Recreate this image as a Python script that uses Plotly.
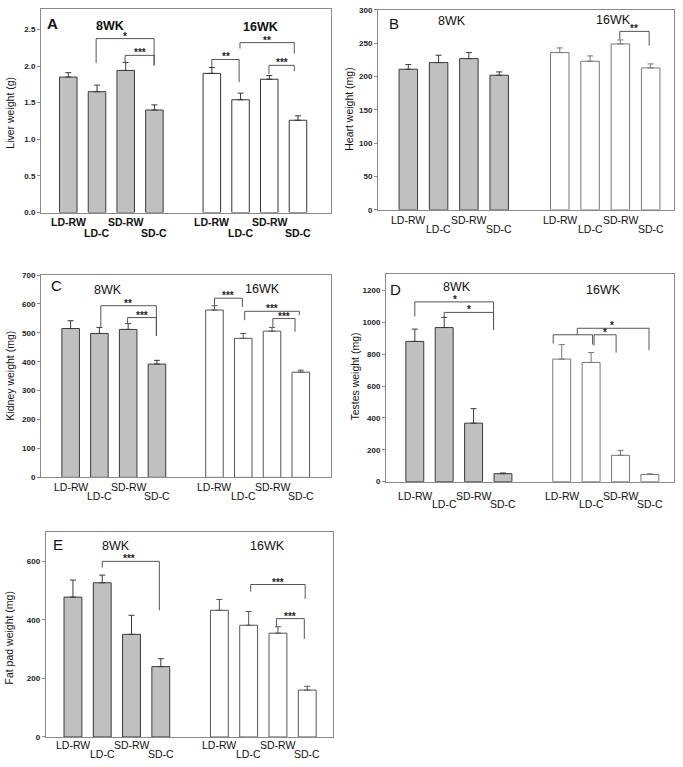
import plotly.graph_objects as go

# ---------------- data ----------------
groups = ["LD-RW", "LD-C", "SD-RW", "SD-C"]
ages = ["8WK", "16WK"]

liver_mean_8 = [1.85, 1.65, 1.94, 1.40]
liver_err_8 = [0.06, 0.09, 0.11, 0.07]
liver_mean_16 = [1.90, 1.54, 1.82, 1.26]
liver_err_16 = [0.08, 0.09, 0.05, 0.06]

heart_mean_8 = [211, 221, 227, 202]
heart_err_8 = [7, 11, 9, 5]
heart_mean_16 = [236, 223, 249, 213]
heart_err_16 = [7, 8, 6, 6]

kidney_mean_8 = [515, 498, 512, 392]
kidney_err_8 = [27, 21, 20, 13]
kidney_mean_16 = [579, 481, 506, 364]
kidney_err_16 = [15, 17, 13, 7]

testes_mean_8 = [880, 967, 367, 50]
testes_err_8 = [77, 64, 91, 4]
testes_mean_16 = [769, 748, 165, 45]
testes_err_16 = [91, 62, 31, 4]

fat_mean_8 = [477, 526, 350, 240]
fat_err_8 = [58, 26, 65, 27]
fat_mean_16 = [432, 381, 354, 160]
fat_err_16 = [37, 47, 22, 13]

liver_ticks = [0, 0.5, 1.0, 1.5, 2.0, 2.5]
heart_ticks = [0, 50, 100, 150, 200, 250, 300]
kidney_ticks = [0, 100, 200, 300, 400, 500, 600, 700]
testes_ticks = [0, 200, 400, 600, 800, 1000, 1200]
fat_ticks = [0, 200, 400, 600]

# significance brackets: (polyline points in bar-position / value units, label, label x, label y)
liver_brackets = [
    ([(0.97, 2.04), (0.97, 2.375), (2.99, 2.375), (2.99, 2.01)], "*", 1.98, 2.375),
    ([(1.98, 2.05), (1.98, 2.146), (2.99, 2.146), (2.99, 2.01)], "***", 2.5, 2.146),
    ([(5.0, 1.98), (5.0, 2.09), (5.95, 2.09), (5.95, 1.78)], "**", 5.48, 2.09),
    ([(5.98, 2.24), (5.98, 2.32), (7.87, 2.32), (7.87, 2.17)], "**", 6.92, 2.32),
    ([(6.99, 1.89), (6.99, 2.01), (7.87, 2.01), (7.87, 1.93)], "***", 7.43, 2.01),
]
heart_brackets = [
    ([(6.98, 256), (6.98, 267.8), (7.95, 267.8), (7.95, 246.4)], "**", 7.46, 267.8),
]
kidney_brackets = [
    ([(1.05, 519), (1.05, 594), (2.98, 594), (2.98, 489)], "**", 2.0, 594),
    ([(1.98, 532.5), (1.98, 553), (2.98, 553), (2.98, 489)], "***", 2.48, 553),
    ([(5.0, 594), (5.0, 620), (5.97, 620), (5.97, 589.5)], "***", 5.48, 620),
    ([(6.05, 544), (6.05, 574.7), (7.95, 574.7), (7.95, 561)], "***", 7.0, 574.7),
    ([(7.03, 519), (7.03, 549.6), (7.8, 549.6), (7.8, 504)], "***", 7.42, 549.6),
]
testes_brackets = [
    ([(0.0, 1037), (0.0, 1128), (2.68, 1128), (2.68, 952.6)], "*", 1.36, 1128),
    ([(1.0, 1031), (1.0, 1062), (2.68, 1062), (2.68, 952.6)], "*", 1.84, 1062),
    ([(4.71, 866), (4.71, 921.6), (6.05, 921.6), (6.05, 860)], "", 0, 0),
    ([(5.53, 921.6), (5.53, 962.5), (7.97, 962.5), (7.97, 824.5)], "*", 6.7, 962.5),
    ([(6.1, 855), (6.1, 921.6), (6.85, 921.6), (6.85, 810)], "*", 6.48, 921.6),
]
fat_brackets = [
    ([(1.0, 577.6), (1.0, 599), (2.95, 599), (2.95, 432)], "***", 1.9, 599),
    ([(6.07, 495.7), (6.07, 520), (7.93, 520), (7.93, 471)], "***", 7.0, 520),
    ([(6.95, 378), (6.95, 403.7), (7.9, 403.7), (7.9, 334)], "***", 7.42, 403.7),
]

# ---------------- layout helpers ----------------
W, H = 683, 767
FONT = "Liberation Sans, Arial, sans-serif"


def fx(px):
    return px / W


def fy(py):
    return 1 - py / H


panels = [
    dict(letter="A", ytitle="Liver weight (g)", m8=liver_mean_8, e8=liver_err_8,
         m16=liver_mean_16, e16=liver_err_16, ticks=liver_ticks, fmt=".1f",
         yr=(0, 2.78), xr=(-0.95, 9.15), dom=(41, 331, 5, 211),
         br=liver_brackets, letter_pos=(52, 20), p8=(110, 22), p16=(260, 23),
         rows=(9.7, 20.5), bold=True, ytpos=(10, 110), line16="#333333"),
    dict(letter="B", ytitle="Heart weight (mg)", m8=heart_mean_8, e8=heart_err_8,
         m16=heart_mean_16, e16=heart_err_16, ticks=heart_ticks, fmt="d",
         yr=(0, 300), xr=(-1.0, 8.77), dom=(378, 674, 6, 208.3),
         br=heart_brackets, letter_pos=(394, 20), p8=(452, 17), p16=(613, 16),
         rows=(10, 19.5), bold=False, ytpos=(349, 107), line16="#777777"),
    dict(letter="C", ytitle="Kidney weight (mg)", m8=kidney_mean_8, e8=kidney_err_8,
         m16=kidney_mean_16, e16=kidney_err_16, ticks=kidney_ticks, fmt="d",
         yr=(0, 700), xr=(-1.03, 9.05), dom=(41, 331, 274.3, 479),
         br=kidney_brackets, letter_pos=(56, 285), p8=(108, 289), p16=(262, 288),
         rows=(10, 19), bold=False, ytpos=(10, 376), line16="#555555"),
    dict(letter="D", ytitle="Testes weight (mg)", m8=testes_mean_8, e8=testes_err_8,
         m16=testes_mean_16, e16=testes_err_16, ticks=testes_ticks, fmt="d",
         yr=(0, 1300), xr=(-0.98, 8.82), dom=(386, 674, 273.7, 483.3),
         br=testes_brackets, letter_pos=(395, 289), p8=(457, 286.5), p16=(603, 289),
         rows=(14, 22.7), bold=False, ytpos=(355, 377), line16="#777777"),
    dict(letter="E", ytitle="Fat pad weight (mg)", m8=fat_mean_8, e8=fat_err_8,
         m16=fat_mean_16, e16=fat_err_16, ticks=fat_ticks, fmt="d",
         yr=(0, 700), xr=(-0.93, 8.88), dom=(45.7, 333, 534, 741.7),
         br=fat_brackets, letter_pos=(58, 547), p8=(116, 548), p16=(267, 548),
         rows=(8.5, 17.5), bold=False, ytpos=(9, 642), line16="#555555"),
]

fig = go.Figure()
shapes = []
annotations = []
layout_axes = {}

for i, p in enumerate(panels):
    n = i + 1
    xa = "x" if n == 1 else f"x{n}"
    ya = "y" if n == 1 else f"y{n}"
    pos8 = [j for j in range(len(groups))]
    pos16 = [j + len(groups) + 1 for j in range(len(groups))]

    fig.add_trace(go.Bar(
        x=pos8, y=p["m8"], width=0.61, xaxis=xa, yaxis=ya,
        marker=dict(color="#c0c0c0", line=dict(color="#3a3a3a", width=1)),
        error_y=dict(type="data", symmetric=False, array=p["e8"],
                     arrayminus=[0] * 4, width=3, thickness=1, color="#3a3a3a"),
        showlegend=False, hoverinfo="skip"))
    fig.add_trace(go.Bar(
        x=pos16, y=p["m16"], width=0.61, xaxis=xa, yaxis=ya,
        marker=dict(color="#ffffff", line=dict(color=p["line16"], width=1)),
        error_y=dict(type="data", symmetric=False, array=p["e16"],
                     arrayminus=[0] * 4, width=3, thickness=1, color=p["line16"]),
        showlegend=False, hoverinfo="skip"))

    x0, x1, y0, y1 = p["dom"]
    kx = "xaxis" if n == 1 else f"xaxis{n}"
    ky = "yaxis" if n == 1 else f"yaxis{n}"
    layout_axes[kx] = dict(domain=[fx(x0), fx(x1)], range=list(p["xr"]),
                           showticklabels=False, ticks="", showgrid=False,
                           zeroline=False, showline=True, mirror=True,
                           linecolor="#8a8a8a", linewidth=1, anchor=ya,
                           fixedrange=True)
    layout_axes[ky] = dict(domain=[fy(y1), fy(y0)], range=list(p["yr"]),
                           tickvals=p["ticks"], tickformat=p["fmt"],
                           ticks="outside", ticklen=3, tickcolor="#8a8a8a",
                           tickfont=dict(family=FONT, size=8, color="#222222",
                                         weight="bold"),
                           showgrid=False, zeroline=False, showline=True,
                           mirror=True, linecolor="#8a8a8a", linewidth=1,
                           anchor=xa, fixedrange=True)

    # staggered category labels
    for j, g in enumerate(groups):
        for pos in (pos8[j], pos16[j]):
            annotations.append(dict(
                x=pos, xref=xa, y=0, yref=f"{ya} domain", text=g,
                showarrow=False, yanchor="middle", xanchor="center",
                yshift=-p["rows"][j % 2],
                font=dict(family=FONT, size=10.5, color="#111111",
                          weight="bold" if p["bold"] else "normal")))

    # brackets
    for pts, lab, lx, ly in p["br"]:
        path = "M " + " L ".join(f"{a},{b}" for a, b in pts)
        shapes.append(dict(type="path", path=path, xref=xa, yref=ya,
                           line=dict(color="#555555", width=1)))
        if lab:
            annotations.append(dict(
                x=lx, xref=xa, y=ly, yref=ya, text=lab, showarrow=False,
                xanchor="center", yanchor="bottom", yshift=-5,
                font=dict(family=FONT, size=10, color="#222222", weight="bold")))

    # panel letter and age labels
    annotations.append(dict(x=fx(p["letter_pos"][0]), y=fy(p["letter_pos"][1]),
                            xref="paper", yref="paper", text=p["letter"],
                            showarrow=False, xanchor="center", yanchor="middle",
                            font=dict(family=FONT, size=15, color="#111111",
                                      weight="bold" if p["bold"] else "normal")))
    for age, ppos in zip(ages, (p["p8"], p["p16"])):
        annotations.append(dict(x=fx(ppos[0]), y=fy(ppos[1]), xref="paper",
                                yref="paper", text=age, showarrow=False,
                                xanchor="center", yanchor="middle",
                                font=dict(family=FONT, size=12.5, color="#111111",
                                          weight="bold" if p["bold"] else "normal")))
    annotations.append(dict(x=fx(p["ytpos"][0]), y=fy(p["ytpos"][1]), xref="paper",
                            yref="paper", text=p["ytitle"], textangle=-90,
                            showarrow=False, xanchor="center", yanchor="middle",
                            font=dict(family=FONT, size=10.5, color="#111111")))

fig.update_layout(
    width=W, height=H, margin=dict(l=0, r=0, t=0, b=0),
    paper_bgcolor="white", plot_bgcolor="white", barmode="overlay",
    shapes=shapes, annotations=annotations, **layout_axes)

fig.write_html("out.html",
               config={"displayModeBar": False},
               post_script="document.body.style.margin='0';"
                           "document.body.style.overflow='hidden';")
